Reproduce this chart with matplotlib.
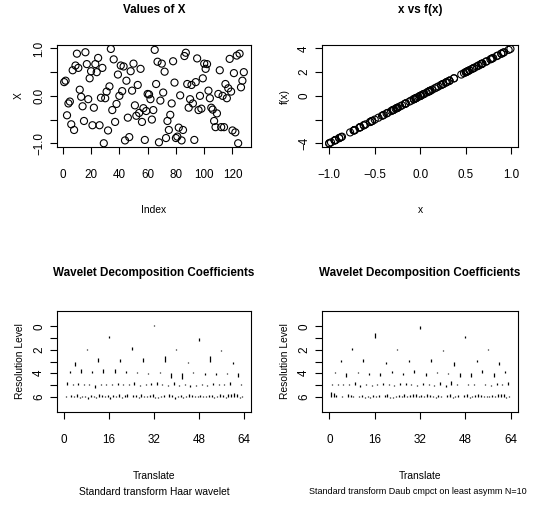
import matplotlib
matplotlib.use('Agg')
import matplotlib.pyplot as plt
import numpy as np

plt.rcParams['font.family'] = ['Liberation Sans', 'DejaVu Sans']

W, H = 537, 505

# values of X (index 1..128)
x_values = [
    0.29, 0.32, -0.41, -0.16, -0.12, -0.60, 0.54, -0.72, 0.64, 0.89,
    0.59, 0.13, -0.02, -0.22, -0.53, 0.92, 0.67, -0.07, 0.37, 0.52,
    -0.62, -0.25, 0.67, 0.50, 0.80, -0.62, -0.04, 0.59, -1.00, -0.05,
    0.09, -0.73, 0.20, 0.99, -0.30, 0.77, -0.55, -0.17, 0.45, 0.00,
    0.64, 0.10, 0.62, -0.94, 0.32, -0.46, -0.87, 0.52, 0.11, 0.68,
    -0.20, -0.42, 0.23, -0.36, 0.57, -0.55, -0.26, -0.93, -0.32, 0.04,
    0.03, -0.07, -0.50, -0.30, 0.97, 0.25, 0.72, -0.98, -0.10, 0.68,
    0.07, 0.51, -0.89, -0.53, -0.72, -0.40, -0.16, 0.73, 0.28, -0.89,
    -0.86, -0.67, 0.01, -0.94, -0.72, 0.84, 0.91, 0.25, -0.25, -0.07,
    0.23, -0.16, -0.93, 0.29, 0.79, -0.30, 0.00, -0.27, 0.37, 0.68,
    0.57, 0.67, 0.11, -0.05, -0.25, -0.29, -0.53, -0.66, -0.37, 0.04,
    0.54, -0.66, 0.00, -0.66, 0.25, -0.05, 0.16, 0.78, 0.09, -0.73,
    0.48, -0.77, 0.85, -1.00, 0.89, 0.18, 0.32, 0.50,
]

# f(x) for the same points
fx_values = [
    1.16, 1.28, -1.64, -0.64, -0.48, -2.40, 2.16, -2.88, 2.56, 3.56,
    2.36, 0.52, -0.08, -0.88, -2.12, 3.68, 2.68, -0.28, 1.48, 2.08,
    -2.48, -1.00, 2.68, 2.00, 3.20, -2.48, -0.16, 2.36, -4.00, -0.20,
    0.36, -2.92, 0.80, 3.96, -1.20, 3.08, -2.20, -0.68, 1.80, 0.00,
    2.56, 0.40, 2.48, -3.76, 1.28, -1.84, -3.48, 2.08, 0.44, 2.72,
    -0.80, -1.68, 0.92, -1.44, 2.28, -2.20, -1.04, -3.72, -1.28, 0.16,
    0.12, -0.28, -2.00, -1.20, 3.88, 1.00, 2.88, -3.92, -0.40, 2.72,
    0.28, 2.04, -3.56, -2.12, -2.88, -1.60, -0.64, 2.92, 1.12, -3.56,
    -3.44, -2.68, 0.04, -3.76, -2.88, 3.36, 3.64, 1.00, -1.00, -0.28,
    0.92, -0.64, -3.72, 1.16, 3.16, -1.20, 0.00, -1.08, 1.48, 2.72,
    2.28, 2.68, 0.44, -0.20, -1.00, -1.16, -2.12, -2.64, -1.48, 0.16,
    2.16, -2.64, 0.00, -2.64, 1.00, -0.20, 0.64, 3.12, 0.36, -2.92,
    1.92, -3.08, 3.40, -4.00, 3.56, 0.72, 1.28, 2.00,
]

# wavelet coefficients as drawn (in level units), levels 0..6
haar_coefs = {
    0: [0.12],
    1: [0.2, -0.25],
    2: [0.05, 0.25, 0.05, -0.08],
    3: [-0.35, 0.3, 0.18, 0.3, 0.43, -0.15, 0.43, -0.2],
    4: [0.2, 0.35, 0.2, 0.4, 0.35, 0.15, 0.1, -0.1, 0.1, -0.43, -0.48, 0.1,
        -0.12, -0.15, -0.1, -0.35],
    5: [0.25, 0.05, 0.2, 0.08, 0.05, -0.3, 0.05, 0.08, 0.1, 0.2, 0.05, 0.08,
        0.25, -0.1, 0.05, 0.2, 0.25, 0.05, -0.08, 0.25, -0.1, 0.05, -0.15, -0.1,
        0.05, -0.08, 0.2, 0.1, 0.05, 0.25, -0.05, 0.05],
    6: [0.05, -0.05, 0.1, 0.05, 0.2, -0.1, 0.05, 0.05, -0.25, 0.1, 0.05, -0.08,
        0.2, 0.1, 0.05, 0.15, -0.2, 0.1, 0.05, 0.2, -0.1, 0.1, 0.25, -0.05,
        0.1, 0.15, -0.1, 0.2, 0.05, 0.05, 0.1, 0.25, -0.15, -0.1, 0.05, 0.1,
        -0.05, 0.2, 0.1, -0.25, 0.05, 0.15, -0.1, 0.05, 0.2, 0.1, 0.05, 0.05,
        0.1, 0.05, 0.08, 0.15, 0.1, -0.1, 0.05, 0.2, 0.15, -0.1, 0.25, 0.2,
        0.3, 0.25, -0.1, 0.05],
}
daub_coefs = {
    0: [-0.25],
    1: [0.4, 0.2],
    2: [0.12, 0.1, -0.1, 0.1],
    3: [0.12, 0.2, -0.2, 0.1, 0.25, -0.35, 0.17, -0.3],
    4: [0.1, -0.3, 0.1, -0.15, -0.2, 0.15, -0.15, 0.25, -0.2, 0.1, -0.1, -0.35,
        -0.35, 0.25, -0.3, 0.15],
    5: [0.05, 0.05, 0.05, 0.05, 0.25, -0.15, 0.1, -0.1, 0.05, 0.2, 0.05, -0.1,
        0.2, 0.15, 0.05, -0.1, 0.2, 0.05, -0.1, 0.25, -0.15, 0.3, 0.05, -0.05,
        0.1, 0.05, -0.05, 0.05, -0.1, 0.2, 0.05, 0.25],
    6: [0.35, 0.3, 0.1, -0.05, 0.05, -0.05, 0.2, 0.1, 0.05, -0.05, 0.05, 0.1,
        -0.1, 0.05, -0.1, 0.1, 0.05, 0.15, -0.05, 0.1, 0.2, -0.1, -0.15, 0.05,
        0.1, 0.05, 0.2, 0.05, 0.1, 0.25, 0.2, 0.05, 0.1, 0.05, 0.2, 0.1,
        0.05, -0.1, 0.15, 0.05, -0.05, 0.1, 0.2, -0.1, 0.05, 0.1, -0.05, 0.15,
        0.25, -0.1, 0.05, 0.1, 0.2, 0.1, 0.05, 0.05, 0.05, 0.1, 0.05, 0.2,
        0.25, 0.2, -0.1, 0.05],
}

n_translate = 64

TICK_FS = 8.4
LABEL_FS = 7.4
TITLE_FS = 8.4


def box(l, t, r, b):
    return [l / W, 1 - b / H, (r - l) / W, (b - t) / H]


def ftext(x, y, s, **kw):
    fig.text(x / W, 1 - y / H, s, ha='center', va='center', **kw)


def style_axes(ax):
    for sp in ax.spines.values():
        sp.set_linewidth(0.8)
    ax.tick_params(direction='out', length=5, width=0.8, labelsize=TICK_FS)
    ax.tick_params(axis='x', pad=10.5)
    ax.tick_params(axis='y', pad=3.5)
    for lab in ax.get_yticklabels():
        lab.set_rotation(90)
        lab.set_va('center')


def wavelet_panel(ax, coefs):
    for level, c in coefs.items():
        c = np.array(c)
        step = n_translate / len(c)
        pos = (np.arange(len(c)) + 0.5) * step
        ax.vlines(pos, level, level - c, color='black', linewidth=0.9)
    ax.set_xlim(-2.56, 66.56)
    ax.set_ylim(7.32, -1.32)
    ax.set_xticks([0, 16, 32, 48, 64])
    ax.set_yticks(range(7))
    ax.set_yticklabels(['0', '', '2', '', '4', '', '6'])
    style_axes(ax)


fig = plt.figure(figsize=(W / 100, H / 100), dpi=100)

# values of X
ax1 = fig.add_axes(box(57, 45, 251, 147))
ax1.scatter(np.arange(1, len(x_values) + 1), x_values, s=26, facecolors='none',
            edgecolors='black', linewidths=0.8)
ax1.set_xlim(-4.08, 133.08)
ax1.set_ylim(-1.079, 1.073)
ax1.set_xticks([0, 20, 40, 60, 80, 100, 120])
ax1.set_yticks([-1.0, -0.5, 0.0, 0.5, 1.0])
ax1.set_yticklabels(['\u22121.0', '', '0.0', '', '1.0'])
style_axes(ax1)

# x vs f(x)
ax2 = fig.add_axes(box(322, 45, 518, 147))
ax2.scatter(x_values, fx_values, s=26, facecolors='none',
            edgecolors='black', linewidths=0.8)
ax2.set_xlim(-1.079, 1.073)
ax2.set_ylim(-4.31, 4.29)
ax2.set_xticks([-1.0, -0.5, 0.0, 0.5, 1.0])
ax2.set_xticklabels(['\u22121.0', '\u22120.5', '0.0', '0.5', '1.0'])
ax2.set_yticks([-4, -2, 0, 2, 4])
ax2.set_yticklabels(['\u22124', '', '0', '2', '4'])
style_axes(ax2)

ax3 = fig.add_axes(box(57, 311, 251, 412))
wavelet_panel(ax3, haar_coefs)
ax4 = fig.add_axes(box(322, 311, 518, 412))
wavelet_panel(ax4, daub_coefs)

bold = dict(fontsize=TITLE_FS, fontweight='bold')
ftext(154, 10, 'Values of X', **bold)
ftext(420, 10, 'x vs f(x)', **bold)
ftext(154, 273, 'Wavelet Decomposition Coefficients', **bold)
ftext(420, 273, 'Wavelet Decomposition Coefficients', **bold)

ftext(154, 210, 'Index', fontsize=LABEL_FS)
ftext(420, 210, 'x', fontsize=LABEL_FS)
ftext(154, 476, 'Translate', fontsize=LABEL_FS)
ftext(154, 492, 'Standard transform Haar wavelet', fontsize=LABEL_FS)
ftext(420, 476, 'Translate', fontsize=LABEL_FS)
ftext(418, 492, 'Standard transform Daub cmpct on least asymm N=10',
      fontsize=6.5)

ftext(19, 96, 'X', fontsize=LABEL_FS, rotation=90)
ftext(285, 96, 'f(x)', fontsize=LABEL_FS, rotation=90)
ftext(20, 361, 'Resolution Level', fontsize=LABEL_FS, rotation=90)
ftext(285, 361, 'Resolution Level', fontsize=LABEL_FS, rotation=90)

fig.savefig('out.png', dpi=100)
